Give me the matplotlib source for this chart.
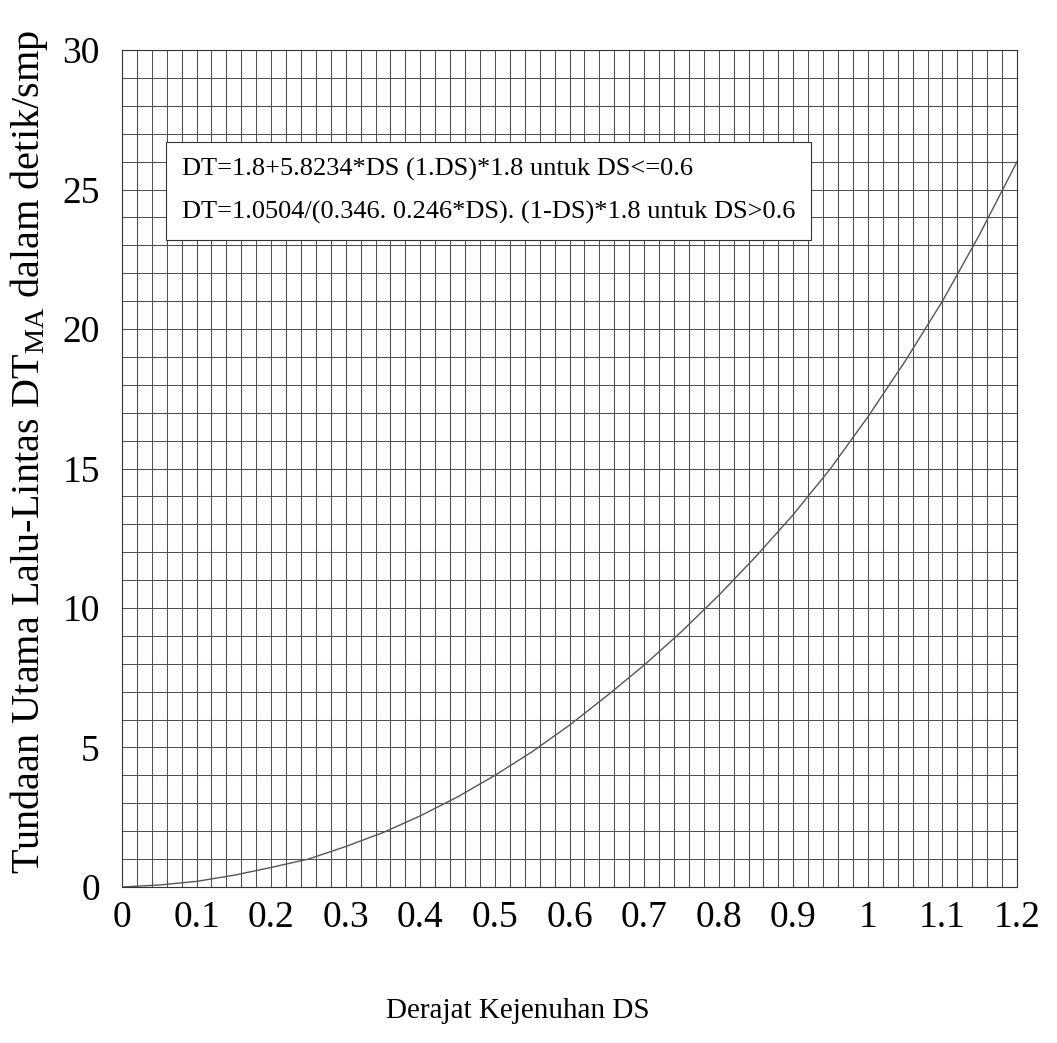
import numpy as np
import matplotlib
matplotlib.use("Agg")
import matplotlib.pyplot as plt
from matplotlib.ticker import MultipleLocator

# values
ds = [0.0, 0.05, 0.10, 0.15, 0.20, 0.25, 0.30, 0.35, 0.40, 0.45, 0.50,
      0.55, 0.60, 0.65, 0.70, 0.75, 0.80, 0.85, 0.90, 0.95, 1.00,
      1.05, 1.10, 1.15, 1.20]
dt = [0.0, 0.07, 0.2, 0.42, 0.7, 1.0, 1.45, 1.95, 2.55, 3.23, 4.0,
      4.85, 5.8, 6.85, 7.95, 9.15, 10.45, 11.85, 13.35, 15.0, 16.85,
      18.85, 21.0, 23.4, 26.0]

xticks = [0, 0.1, 0.2, 0.3, 0.4, 0.5, 0.6, 0.7, 0.8, 0.9, 1.0, 1.1, 1.2]
xtick_labels = ['0', '0.1', '0.2', '0.3', '0.4', '0.5', '0.6', '0.7',
                '0.8', '0.9', '1', '1.1', '1.2']
yticks = [0, 5, 10, 15, 20, 25, 30]

eq1 = 'DT=1.8+5.8234*DS (1.DS)*1.8 untuk DS<=0.6'
eq2 = 'DT=1.0504/(0.346. 0.246*DS). (1-DS)*1.8 untuk DS>0.6'

plt.rcParams['font.family'] = ['Liberation Serif', 'DejaVu Serif']
plt.rcParams['mathtext.fontset'] = 'custom'
plt.rcParams['mathtext.rm'] = 'Liberation Serif'

fig = plt.figure(figsize=(10.57, 10.43), dpi=100)
ax = fig.add_axes([0.1154, 0.1496, 0.8468, 0.8024])

ax.plot(ds, dt, color='#555555', lw=1.0, zorder=3)

ax.set_xlim(0, 1.2)
ax.set_ylim(0, 30)
ax.xaxis.set_minor_locator(MultipleLocator(0.02))
ax.yaxis.set_minor_locator(MultipleLocator(1))
ax.set_xticks(xticks)
ax.set_xticklabels(xtick_labels)
ax.set_yticks(yticks)
ax.grid(True, which='both', color='#505050', lw=0.75)
ax.set_axisbelow(True)
ax.tick_params(which='both', length=0)
ax.tick_params(axis='x', labelsize=27, pad=10)
ax.tick_params(axis='y', labelsize=27, pad=16)
for s in ax.spines.values():
    s.set_linewidth(0.8)
    s.set_color('#333333')

ax.text(0.08, 24.95, eq1 + '\n' + eq2, fontsize=19, linespacing=2.15,
        va='center', ha='left', zorder=5,
        bbox=dict(boxstyle='square,pad=0.6', fc='white', ec='#333333', lw=0.8))

fig.text(0.027, 0.567,
         r'Tundaan Utama Lalu-Lintas DT$\mathregular{_{MA}}$ dalam detik/smp',
         fontsize=29, rotation=90, ha='center', va='center')
fig.text(0.49, 0.031, 'Derajat Kejenuhan DS', fontsize=21, ha='center', va='center')

fig.savefig('out.png', dpi=100, facecolor='white')
